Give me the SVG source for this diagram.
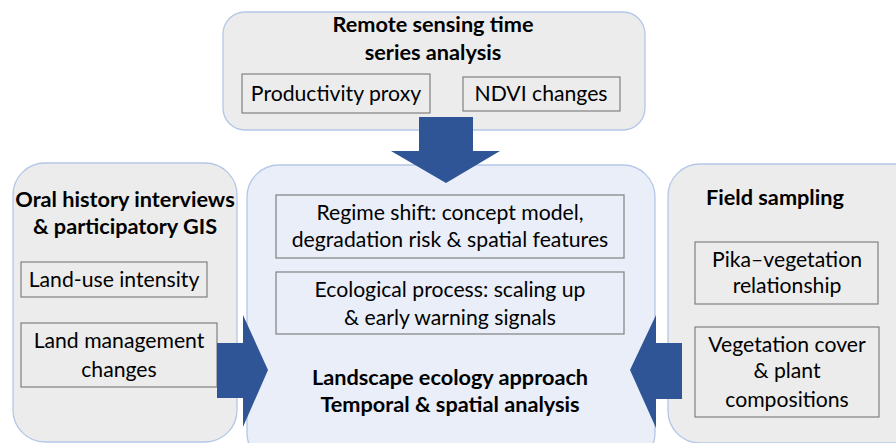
<svg xmlns="http://www.w3.org/2000/svg" width="896" height="443" viewBox="0 0 896 443">
<style>
.panel{fill:#ececec;stroke:#b4c7e7;stroke-width:1.3}
.center{fill:#e9eef8;stroke:#b4c7e7;stroke-width:1.3}
.item{fill:none;stroke:#808080;stroke-width:1.2}
.arrow{fill:#2f5597}
text{font-family:Lato,"Liberation Sans",sans-serif;fill:#000;text-anchor:middle}
.t{font-size:21.2px}
.b{font-size:21.7px;font-weight:bold}
</style>
<rect width="896" height="443" fill="#ffffff"/>
<g id="center-panel">
<rect class="center" x="247" y="165" width="408" height="300" rx="32"/>
<rect class="item" x="276" y="195" width="348" height="63"/>
<text class="t" x="450" y="220">Regime shift: concept model,</text>
<text class="t" x="450" y="247">degradation risk &amp; spatial features</text>
<rect class="item" x="276" y="272" width="348" height="62"/>
<text class="t" x="450" y="297">Ecological process: scaling up</text>
<text class="t" x="450" y="325">&amp; early warning signals</text>
<text class="b" x="450" y="385">Landscape ecology approach</text>
<text class="b" x="450" y="412">Temporal &amp; spatial analysis</text>
</g>
<g id="remote-sensing">
<rect class="panel" x="223" y="12" width="422" height="118" rx="22"/>
<text class="b" x="433" y="32">Remote sensing time</text>
<text class="b" x="433" y="60">series analysis</text>
<rect class="item" x="242" y="74" width="188" height="39"/>
<text class="t" x="336" y="101">Productivity proxy</text>
<rect class="item" x="463" y="77" width="157" height="34"/>
<text class="t" x="541" y="101">NDVI changes</text>
</g>
<g id="oral-history">
<rect class="panel" x="13" y="163" width="224" height="279" rx="32"/>
<text class="b" x="125" y="207">Oral history interviews</text>
<text class="b" x="125" y="234">&amp; participatory GIS</text>
<rect class="item" x="21" y="262" width="186" height="35"/>
<text class="t" x="114" y="287">Land-use intensity</text>
<rect class="item" x="21" y="323" width="196" height="64"/>
<text class="t" x="119" y="348">Land management</text>
<text class="t" x="119" y="377">changes</text>
</g>
<g id="field-sampling">
<rect class="panel" x="668" y="164" width="260" height="279" rx="32"/>
<text class="b" x="775" y="205">Field sampling</text>
<rect class="item" x="695" y="242" width="183" height="62"/>
<text class="t" x="787" y="267">Pika–vegetation</text>
<text class="t" x="787" y="293">relationship</text>
<rect class="item" x="695" y="327" width="184" height="90"/>
<text class="t" x="787" y="352">Vegetation cover</text>
<text class="t" x="787" y="378">&amp; plant</text>
<text class="t" x="787" y="407">compositions</text>
</g>
<g id="connectors">
<polygon class="arrow" points="419,117 473,117 473,151 500,151 446,183 391,151 419,151"/>
<polygon class="arrow" points="217,343 243,343 243,315 268,370 243,427 243,398 217,398"/>
<polygon class="arrow" points="682,343 656,343 656,315 630,370 656,428 656,399 682,399"/>
</g>
</svg>
